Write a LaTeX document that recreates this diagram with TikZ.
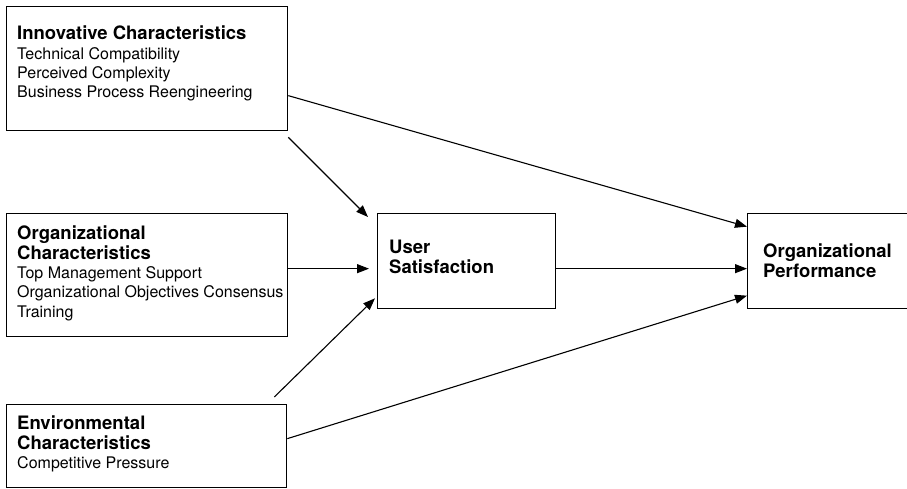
\documentclass[tikz,border=0pt]{standalone}
\usepackage{fontspec}
\setmainfont{TeX Gyre Heros}
\usetikzlibrary{arrows.meta}
\newcommand{\headfont}{\fontsize{18.5}{19.5}\selectfont\bfseries}
\newcommand{\itemfont}{\fontsize{16}{19.3}\selectfont}

\begin{document}
\begin{tikzpicture}[
	x=1pt, y=-1pt,
	box/.style={draw, line width=1.3pt, inner sep=0pt, anchor=north west},
	boxtext/.style={anchor=north west, align=left, inner sep=0pt, font=\itemfont},
	link/.style={draw, line width=1.1pt, -{Triangle[length=12pt, width=9pt]}}
	]
	\useasboundingbox (0,0) rectangle (907,488);
	
	% Boxes on the left
	\node[box, minimum width=281pt, minimum height=124pt] (innov) at (6,6) {};
	\node[box, minimum width=281pt, minimum height=123pt] (orgc) at (6,213) {};
	\node[box, minimum width=280pt, minimum height=83pt] (env) at (6,404) {};
	
	% Middle and right boxes
	\node[box, minimum width=178pt, minimum height=95pt] (user) at (377,213) {};
	\node[box, minimum width=161pt, minimum height=95pt] (perf) at (747,213) {};
	
	% Texts
	\node[boxtext] (innovtext) at ([xshift=11pt, yshift=-20pt]innov.north west)
	{{\headfont Innovative Characteristics}\\ Technical Compatibility\\ Perceived Complexity\\ Business Process Reengineering};
	\node[boxtext] (orgtext) at ([xshift=11pt, yshift=-13pt]orgc.north west)
	{{\headfont Organizational}\\ {\headfont Characteristics}\\ Top Management Support\\ Organizational Objectives Consensus\\ Training};
	\node[boxtext] (envtext) at ([xshift=11pt, yshift=-12pt]env.north west)
	{{\headfont Environmental}\\ {\headfont Characteristics}\\ Competitive Pressure};
	\node[boxtext, font=\headfont] (usertext) at ([xshift=12pt, yshift=-27pt]user.north west) {User\\ Satisfaction};
	\node[boxtext, font=\headfont] (perftext) at ([xshift=16pt, yshift=-31pt]perf.north west) {Organizational\\ Performance};
	
	% Arrows
	\draw[link] ([yshift=-27pt]innov.east) -- ([yshift=34.5pt]perf.west);
	\draw[link] ([yshift=-6pt]innov.south east) -- ([xshift=-9pt, yshift=-4pt]user.north west);
	\draw[link, shorten >=8pt] ([yshift=6.5pt]orgc.east) coordinate (orgout) -- (orgout -| user.west);
	\draw[link] ([yshift=-7.5pt]user.east) coordinate (userout) -- (userout -| perf.west);
	\draw[link] ([xshift=-13pt, yshift=7pt]env.north east) -- ([xshift=-2pt, yshift=11pt]user.south west);
	\draw[link] ([yshift=7.5pt]env.east) -- ([yshift=-34.5pt]perf.west);
	
\end{tikzpicture}
\end{document}
